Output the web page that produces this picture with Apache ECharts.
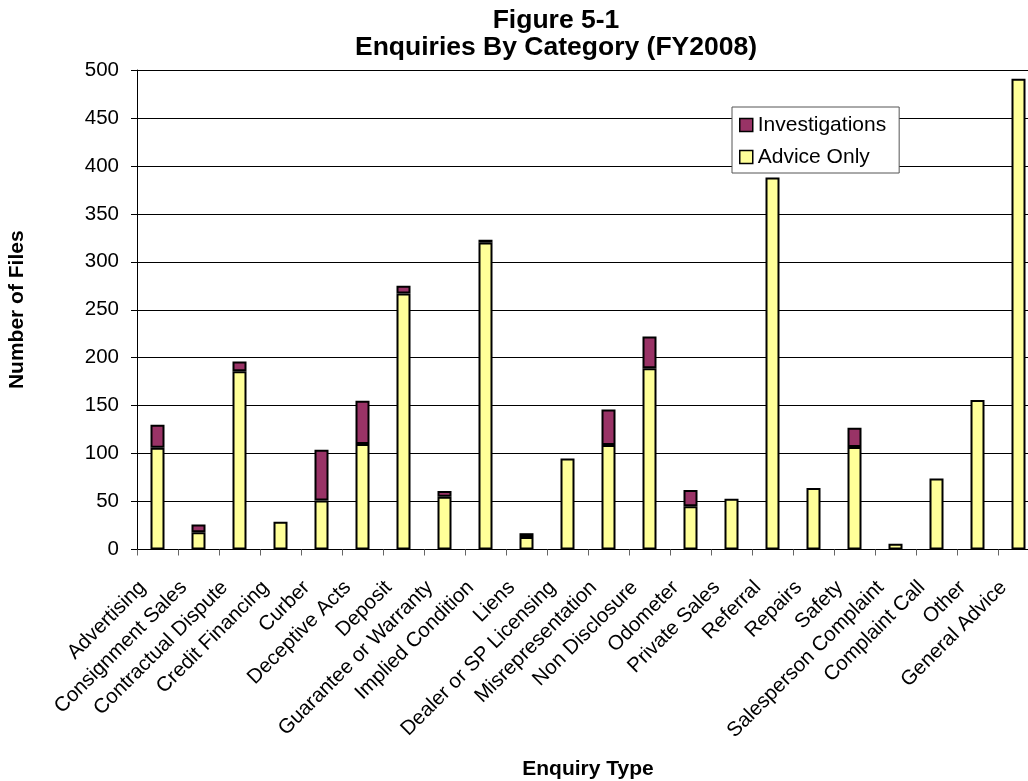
<!DOCTYPE html>
<html>
<head>
<meta charset="utf-8">
<script src="https://cdn.jsdelivr.net/npm/echarts@6/dist/echarts.min.js"></script>
<style>
  html, body { margin: 0; padding: 0; background: #fff; }
  #chart { width: 1028px; height: 781px; }
</style>
</head>
<body>
<div id="chart"></div>
<script>
// Enquiry categories, FY2008
const categories = [
  'Advertising', 'Consignment Sales', 'Contractual Dispute', 'Credit Financing',
  'Curber', 'Deceptive Acts', 'Deposit', 'Guarantee or Warranty',
  'Implied Condition', 'Liens', 'Dealer or SP Licensing', 'Misrepresentation',
  'Non Disclosure', 'Odometer', 'Private Sales', 'Referral', 'Repairs',
  'Safety', 'Salesperson Complaint', 'Complaint Call', 'Other', 'General Advice'
];

// Files handled with advice only
const adviceOnly = [
  106, 18, 186, 29, 51, 110, 267, 55, 320, 13, 95,
  109, 189, 45, 53, 388, 64, 107, 6, 74, 156, 491
];

// Files that went to investigation (stacked on top of advice)
const investigations = [
  24, 8, 10, 0, 53, 45, 8, 6, 3, 4, 0,
  37, 33, 17, 0, 0, 0, 20, 0, 0, 0, 0
];

const yTicks = { min: 0, max: 500, step: 50 };

const FONT = 'Arial, "Liberation Sans", sans-serif';

const chart = echarts.init(document.getElementById('chart'), null, { renderer: 'canvas' });

chart.setOption({
  animation: false,
  backgroundColor: '#ffffff',
  title: {
    text: 'Figure 5-1\nEnquiries By Category (FY2008)',
    left: 551,
    top: 2,
    textAlign: 'center',
    textStyle: {
      fontFamily: FONT,
      fontWeight: 'bold',
      fontSize: 26.5,
      lineHeight: 27,
      color: '#000'
    }
  },
  legend: {
    orient: 'vertical',
    left: 732,
    top: 107,
    data: ['Investigations', 'Advice Only'],
    backgroundColor: '#fff',
    borderColor: '#555',
    borderWidth: 1,
    padding: [7, 13, 5, 7],
    itemGap: 10,
    itemWidth: 13,
    itemHeight: 13,
    icon: 'rect',
    itemStyle: { borderColor: '#000', borderWidth: 1.5 },
    textStyle: { fontFamily: FONT, fontSize: 21, lineHeight: 22, color: '#000' },
    selectedMode: false,
    z: 10
  },
  grid: {
    left: 137,
    top: 70,
    width: 902,
    height: 479.5,
    containLabel: false,
    outerBoundsMode: 'none'
  },
  xAxis: {
    type: 'category',
    data: categories,
    name: 'Enquiry Type',
    nameLocation: 'middle',
    nameGap: 209,
    nameTextStyle: { fontFamily: FONT, fontWeight: 'bold', fontSize: 21, color: '#000' },
    axisLine: { lineStyle: { color: '#000', width: 1 } },
    axisTick: { show: true, length: 6, lineStyle: { color: '#666' } },
    axisLabel: {
      rotate: 45,
      interval: 0,
      margin: 20,
      padding: [0, 21, 0, 0],
      fontFamily: FONT,
      fontSize: 20.5,
      color: '#000'
    }
  },
  yAxis: {
    type: 'value',
    min: yTicks.min,
    max: yTicks.max,
    interval: yTicks.step,
    name: 'Number of Files',
    nameLocation: 'middle',
    nameGap: 109,
    nameRotate: 90,
    nameTextStyle: { fontFamily: FONT, fontWeight: 'bold', fontSize: 21, color: '#000' },
    axisLine: { show: true, lineStyle: { color: '#000', width: 1 } },
    axisTick: { show: true, inside: false, length: 6, lineStyle: { color: '#000' } },
    axisLabel: { fontFamily: FONT, fontSize: 20.5, color: '#000', margin: 18 },
    splitLine: { show: true, lineStyle: { color: '#000', width: 1 } }
  },
  series: [
    {
      name: 'Advice Only',
      type: 'bar',
      stack: 'files',
      barWidth: 14,
      data: adviceOnly,
      itemStyle: { color: '#FFFF99', borderColor: '#000', borderWidth: 2 }
    },
    {
      name: 'Investigations',
      type: 'bar',
      stack: 'files',
      barWidth: 14,
      data: investigations.map(v => (v > 0 ? v : '-')),
      itemStyle: { color: '#993366', borderColor: '#000', borderWidth: 2 }
    }
  ]
});
</script>
</body>
</html>
